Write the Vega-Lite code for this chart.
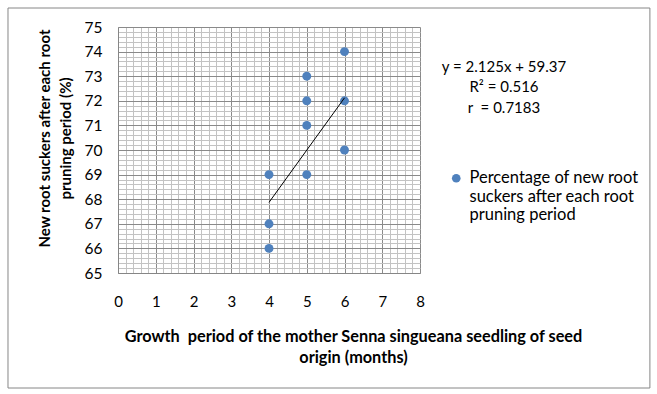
{
  "$schema": "https://vega.github.io/schema/vega-lite/v6.json",
  "width": 302,
  "height": 246,
  "autosize": {"type": "none"},
  "padding": {"left": 118, "top": 27, "right": 237, "bottom": 121},
  "background": "white",
  "config": {
    "font": "Lato",
    "view": {"stroke": null},
    "axis": {
      "labelFont": "Lato",
      "labelColor": "#000000",
      "titleFont": "Lato",
      "titleColor": "#000000",
      "domainColor": "#868686",
      "tickColor": "#868686"
    },
    "axisX": {
      "labelExpr": "datum.value % 1 === 0 ? format(datum.value, 'd') : ''",
      "labelOverlap": false,
      "labelFlush": false,
      "labelFontSize": 15,
      "labelPadding": 15,
      "labelBaseline": "top",
      "tickSize": 6,
      "tickOpacity": {"condition": {"test": "datum.value % 1 === 0", "value": 1}, "value": 0},
      "grid": true,
      "gridColor": {"condition": {"test": "datum.value % 1 === 0", "value": "#8a8a8a"}, "value": "#c3c3c3"},
      "gridWidth": 1,
      "titleFontSize": 16.3,
      "titleFontWeight": "bold",
      "titleLineHeight": 21,
      "titleX": 235,
      "titleY": 55,
      "titleAlign": "center",
      "titleBaseline": "top"
    },
    "axisY": {
      "labelExpr": "datum.value % 1 === 0 ? format(datum.value, 'd') : ''",
      "labelOverlap": false,
      "labelFlush": false,
      "labelFontSize": 15.5,
      "labelPadding": 10,
      "tickSize": 6,
      "tickOpacity": {"condition": {"test": "datum.value % 1 === 0", "value": 1}, "value": 0},
      "grid": true,
      "gridColor": {"condition": {"test": "datum.value % 1 === 0", "value": "#8a8a8a"}, "value": "#c3c3c3"},
      "gridWidth": 1,
      "titleFontSize": 15,
      "titleFontWeight": "bold",
      "titleLineHeight": 21,
      "titleAngle": -90,
      "titleX": -74,
      "titleY": 111,
      "titleAlign": "center",
      "titleBaseline": "middle"
    }
  },
  "layer": [
    {
      "data": {"values": [{"frame": "outer"}]},
      "mark": {"type": "rect", "fill": null, "stroke": "#868686", "strokeWidth": 1, "clip": false},
      "encoding": {
        "x": {"datum": -2.914, "type": "quantitative", "scale": {"domain": [0, 8], "nice": false},
          "axis": {"values": [0,0.2,0.4,0.6,0.8,1,1.2,1.4,1.6,1.8,2,2.2,2.4,2.6,2.8,3,3.2,3.4,3.6,3.8,4,4.2,4.4,4.6,4.8,5,5.2,5.4,5.6,5.8,6,6.2,6.4,6.6,6.8,7,7.2,7.4,7.6,7.8,8], "title": ["Growth\u00a0 period of the mother Senna singueana seedling of seed", "origin (months)"]}},
        "x2": {"datum": 14.09},
        "y": {"datum": 75.772, "type": "quantitative", "scale": {"domain": [65, 75], "nice": false, "zero": false},
          "axis": {"values": [65,65.2,65.4,65.6,65.8,66,66.2,66.4,66.6,66.8,67,67.2,67.4,67.6,67.8,68,68.2,68.4,68.6,68.8,69,69.2,69.4,69.6,69.8,70,70.2,70.4,70.6,70.8,71,71.2,71.4,71.6,71.8,72,72.2,72.4,72.6,72.8,73,73.2,73.4,73.6,73.8,74,74.2,74.4,74.6,74.8,75], "title": ["New root suckers after each root", "pruning period (%)"]}},
        "y2": {"datum": 60.325}
      }
    },
    {
      "data": {"values": [
        {"months": 4, "pct": 66, "series": "Percentage of new root suckers after each root pruning period"},
        {"months": 4, "pct": 67, "series": "Percentage of new root suckers after each root pruning period"},
        {"months": 4, "pct": 69, "series": "Percentage of new root suckers after each root pruning period"},
        {"months": 5, "pct": 69, "series": "Percentage of new root suckers after each root pruning period"},
        {"months": 5, "pct": 71, "series": "Percentage of new root suckers after each root pruning period"},
        {"months": 5, "pct": 72, "series": "Percentage of new root suckers after each root pruning period"},
        {"months": 5, "pct": 73, "series": "Percentage of new root suckers after each root pruning period"},
        {"months": 6, "pct": 70, "series": "Percentage of new root suckers after each root pruning period"},
        {"months": 6, "pct": 72, "series": "Percentage of new root suckers after each root pruning period"},
        {"months": 6, "pct": 74, "series": "Percentage of new root suckers after each root pruning period"}
      ]},
      "mark": {"type": "point", "filled": true, "shape": "circle", "size": 80, "opacity": 1},
      "encoding": {
        "x": {"field": "months", "type": "quantitative", "scale": {"domain": [0, 8], "nice": false},
          "axis": {"values": [0,0.2,0.4,0.6,0.8,1,1.2,1.4,1.6,1.8,2,2.2,2.4,2.6,2.8,3,3.2,3.4,3.6,3.8,4,4.2,4.4,4.6,4.8,5,5.2,5.4,5.6,5.8,6,6.2,6.4,6.6,6.8,7,7.2,7.4,7.6,7.8,8], "title": ["Growth\u00a0 period of the mother Senna singueana seedling of seed", "origin (months)"]}},
        "y": {"field": "pct", "type": "quantitative", "scale": {"domain": [65, 75], "nice": false, "zero": false},
          "axis": {"values": [65,65.2,65.4,65.6,65.8,66,66.2,66.4,66.6,66.8,67,67.2,67.4,67.6,67.8,68,68.2,68.4,68.6,68.8,69,69.2,69.4,69.6,69.8,70,70.2,70.4,70.6,70.8,71,71.2,71.4,71.6,71.8,72,72.2,72.4,72.6,72.8,73,73.2,73.4,73.6,73.8,74,74.2,74.4,74.6,74.8,75], "title": ["New root suckers after each root", "pruning period (%)"]}},
        "color": {
          "field": "series", "type": "nominal",
          "scale": {"range": ["#4F81BD"]},
          "legend": {
            "orient": "none",
            "legendX": 330,
            "legendY": 143,
            "title": null,
            "padding": 0,
            "labelFont": "Lato",
            "labelFontSize": 16.5,
            "labelColor": "#000000",
            "labelLimit": 400,
            "labelExpr": "[slice(datum.label,0,22), slice(datum.label,23,46), slice(datum.label,47)]",
            "symbolType": "circle",
            "symbolSize": 75,
            "symbolStrokeWidth": 0,
            "labelOffset": 5
          }
        }
      }
    },
    {
      "data": {"values": [{"months": 4, "pct": 67.87}, {"months": 6, "pct": 72.12}]},
      "mark": {"type": "line", "color": "#000000", "strokeWidth": 1},
      "encoding": {
        "x": {"field": "months", "type": "quantitative", "scale": {"domain": [0, 8], "nice": false},
          "axis": {"values": [0,0.2,0.4,0.6,0.8,1,1.2,1.4,1.6,1.8,2,2.2,2.4,2.6,2.8,3,3.2,3.4,3.6,3.8,4,4.2,4.4,4.6,4.8,5,5.2,5.4,5.6,5.8,6,6.2,6.4,6.6,6.8,7,7.2,7.4,7.6,7.8,8], "title": ["Growth\u00a0 period of the mother Senna singueana seedling of seed", "origin (months)"]}},
        "y": {"field": "pct", "type": "quantitative", "scale": {"domain": [65, 75], "nice": false, "zero": false},
          "axis": {"values": [65,65.2,65.4,65.6,65.8,66,66.2,66.4,66.6,66.8,67,67.2,67.4,67.6,67.8,68,68.2,68.4,68.6,68.8,69,69.2,69.4,69.6,69.8,70,70.2,70.4,70.6,70.8,71,71.2,71.4,71.6,71.8,72,72.2,72.4,72.6,72.8,73,73.2,73.4,73.6,73.8,74,74.2,74.4,74.6,74.8,75], "title": ["New root suckers after each root", "pruning period (%)"]}}
      }
    },
    {
      "data": {"values": [{"eq": "y = 2.125x + 59.37|R² = 0.516|r\u00a0 = 0.7183"}]},
      "mark": {"type": "text", "align": "center", "baseline": "middle", "lineBreak": "|", "lineHeight": 20.5, "font": "Lato", "fontSize": 15, "color": "#000000", "clip": false},
      "encoding": {
        "text": {"field": "eq"},
        "x": {"datum": 10.225, "type": "quantitative", "scale": {"domain": [0, 8], "nice": false},
          "axis": {"values": [0,0.2,0.4,0.6,0.8,1,1.2,1.4,1.6,1.8,2,2.2,2.4,2.6,2.8,3,3.2,3.4,3.6,3.8,4,4.2,4.4,4.6,4.8,5,5.2,5.4,5.6,5.8,6,6.2,6.4,6.6,6.8,7,7.2,7.4,7.6,7.8,8], "title": ["Growth\u00a0 period of the mother Senna singueana seedling of seed", "origin (months)"]}},
        "y": {"datum": 73.374, "type": "quantitative", "scale": {"domain": [65, 75], "nice": false, "zero": false},
          "axis": {"values": [65,65.2,65.4,65.6,65.8,66,66.2,66.4,66.6,66.8,67,67.2,67.4,67.6,67.8,68,68.2,68.4,68.6,68.8,69,69.2,69.4,69.6,69.8,70,70.2,70.4,70.6,70.8,71,71.2,71.4,71.6,71.8,72,72.2,72.4,72.6,72.8,73,73.2,73.4,73.6,73.8,74,74.2,74.4,74.6,74.8,75], "title": ["New root suckers after each root", "pruning period (%)"]}}
      }
    }
  ]
}
